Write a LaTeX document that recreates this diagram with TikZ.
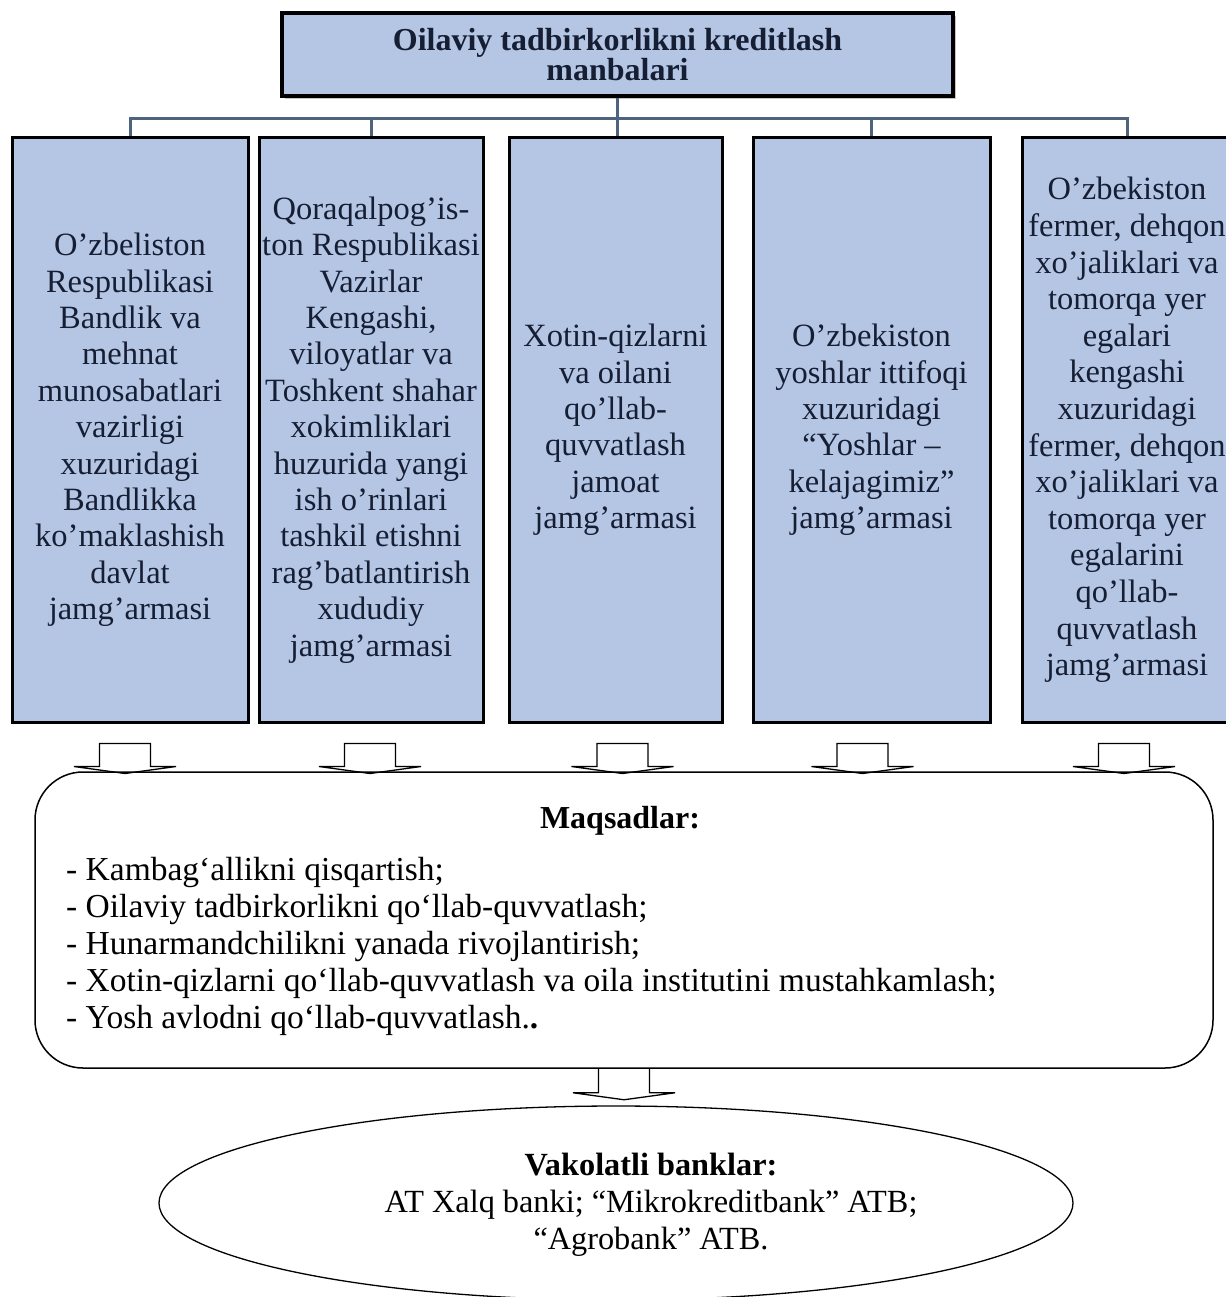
\documentclass[tikz,border=0pt]{standalone}
\usepackage{fontspec}
\setmainfont{Liberation Serif}
\usetikzlibrary{shapes,shadows}
\definecolor{boxblue}{RGB}{181,198,229}
\definecolor{linkgray}{RGB}{78,99,126}
\definecolor{inkblue}{RGB}{22,30,52}
\tikzset{
  srcbox/.style={draw=black,line width=3pt,fill=boxblue,text=inkblue,align=center,
    minimum height=584pt,inner sep=0pt,font=\fontsize{32.5}{36.4}\selectfont},
  link/.style={draw=linkgray,line width=3pt},
  blockarr/.style={draw=black,line width=1.3pt,line join=miter},
}

\begin{document}
\begin{tikzpicture}[x=1pt,y=-1pt]
\useasboundingbox (0,0) rectangle (1225,1297);
%% top
\node[draw=black,line width=3.5pt,fill=boxblue,text=inkblue,align=center,
  minimum width=671pt,minimum height=83pt,inner sep=0pt,
  font=\bfseries\fontsize{32}{30}\selectfont,
  drop shadow={shadow xshift=3pt,shadow yshift=-3pt,opacity=.45}]
  (head) at (617.5,54.5) {Oilaviy tadbirkorlikni kreditlash\\manbalari};
%% sources
\node[srcbox,minimum width=236pt] (b1) at (130,430) {O’zbeliston\\Respublikasi\\Bandlik va\\mehnat\\munosabatlari\\vazirligi\\xuzuridagi\\Bandlikka\\ko’maklashish\\davlat\\jamg’armasi};
\node[srcbox,minimum width=224pt] (b2) at (371,430) {Qoraqalpog’is-\\ton Respublikasi\\Vazirlar\\Kengashi,\\viloyatlar va\\Toshkent shahar\\xokimliklari\\huzurida yangi\\ish o’rinlari\\tashkil etishni\\rag’batlantirish\\xududiy\\jamg’armasi};
\node[srcbox,minimum width=213pt] (b3) at (615.5,430) {Xotin-qizlarni\\va oilani\\qo’llab-\\quvvatlash\\jamoat\\jamg’armasi};
\node[srcbox,minimum width=237pt] (b4) at (871.5,430) {O’zbekiston\\yoshlar ittifoqi\\xuzuridagi\\“Yoshlar –\\kelajagimiz”\\jamg’armasi};
\node[srcbox,minimum width=210pt,font=\fontsize{32.5}{36.6}\selectfont] (b5) at (1127,430) {O’zbekiston\\fermer, dehqon\\xo’jaliklari va\\tomorqa yer\\egalari\\kengashi\\xuzuridagi\\fermer, dehqon\\xo’jaliklari va\\tomorqa yer\\egalarini\\qo’llab-\\quvvatlash\\jamg’armasi};
%% links
\draw[link] (head.south) -- (head.south |- b3.north);
\foreach \b in {b1,b2,b4,b5}
  \draw[link] (\b.north) -- ++(0,-18) -| (head.south);
%% arrows
\foreach \b/\dx in {b1/-5,b2/-1,b3/7,b4/-9,b5/-3}
  \draw[blockarr] ([xshift=\dx pt]\b.south) ++(-25.5,20) -- ++(0,23) -- ++(-25.5,0) -- ++(51,7) -- ++(51,-7) -- ++(-25.5,0) -- ++(0,-23) -- cycle;
%% goals
\node[draw,line width=1.5pt,rounded corners=48pt,minimum width=1178pt,minimum height=296pt] (goals) at (624,920) {};
\node[font=\bfseries\fontsize{32}{37}\selectfont,anchor=base,inner sep=0pt] (goalhead) at (620,828) {Maqsadlar:};
\node[font=\fontsize{33.5}{37}\selectfont,align=left,anchor=north west,inner sep=0pt] (goallist) at (66,857) {- Kambag‘allikni qisqartish;\\- Oilaviy tadbirkorlikni qo‘llab-quvvatlash;\\- Hunarmandchilikni yanada rivojlantirish;\\- Xotin-qizlarni qo‘llab-quvvatlash va oila institutini mustahkamlash;\\- Yosh avlodni qo‘llab-quvvatlash.\textbf{.}};
\draw[blockarr] (goals.south) ++(-25.5,0) -- ++(0,24) -- ++(-25.5,0) -- ++(51,7) -- ++(51,-7) -- ++(-25.5,0) -- ++(0,-24);
%% banks
\node[draw,ellipse,line width=1.3pt,minimum width=914pt,minimum height=194pt,inner sep=0pt] (banks) at (616,1203) {};
\node[font=\fontsize{32.3}{37}\selectfont,align=center,anchor=north,inner sep=0pt] (banktext) at (651,1153) {\textbf{Vakolatli banklar:}\\AT Xalq banki; “Mikrokreditbank” ATB;\\“Agrobank” ATB.};
\end{tikzpicture}
\end{document}
